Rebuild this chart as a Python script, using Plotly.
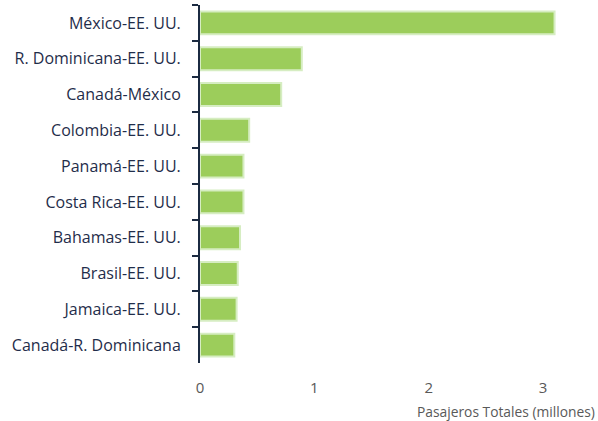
import plotly.graph_objects as go

routes = ["México-EE. UU.", "R. Dominicana-EE. UU.", "Canadá-México", "Colombia-EE. UU.",
          "Panamá-EE. UU.", "Costa Rica-EE. UU.", "Bahamas-EE. UU.", "Brasil-EE. UU.",
          "Jamaica-EE. UU.", "Canadá-R. Dominicana"]
passengers = [3.10, 0.89, 0.71, 0.43, 0.38, 0.38, 0.35, 0.33, 0.32, 0.30]
x_ticks = [0, 1, 2, 3]
x_title = "Pasajeros Totales (millones)"

fig = go.Figure(go.Bar(
    x=passengers, y=routes, orientation="h",
    marker=dict(color="#9CCD5B", line=dict(color="#D6EDC2", width=2)),
    width=0.64,
))

fig.update_layout(
    width=598, height=421,
    margin=dict(l=200, r=8, t=5, b=58),
    paper_bgcolor="white", plot_bgcolor="white",
    showlegend=False,
    font=dict(family="Open Sans", size=15, color="#1F2D4A"),
    xaxis=dict(range=[0, 3.41], tickvals=x_ticks, showgrid=False, zeroline=False,
               showline=False, ticks="", ticklabelstandoff=14, automargin=False,
               tickfont=dict(family="Open Sans", size=15, color="#595959")),
    yaxis=dict(autorange="reversed", showgrid=False, zeroline=False,
               showline=True, linecolor="#1B2A41", linewidth=2,
               ticks="outside", ticklen=6, tickwidth=2, tickcolor="#1B2A41",
               tickson="boundaries", ticklabelstandoff=14, automargin=False,
               tickfont=dict(family="Open Sans", size=16, color="#1F2D4A")),
    annotations=[dict(text=x_title, xref="paper", yref="paper", x=1, y=0,
                      xanchor="right", yanchor="top", yshift=-37, xshift=7,
                      showarrow=False, font=dict(family="Open Sans", size=13.8, color="#595959"))],
)

fig.write_html("out.html", config={"displayModeBar": False},
               post_script="document.body.style.margin='0';")
